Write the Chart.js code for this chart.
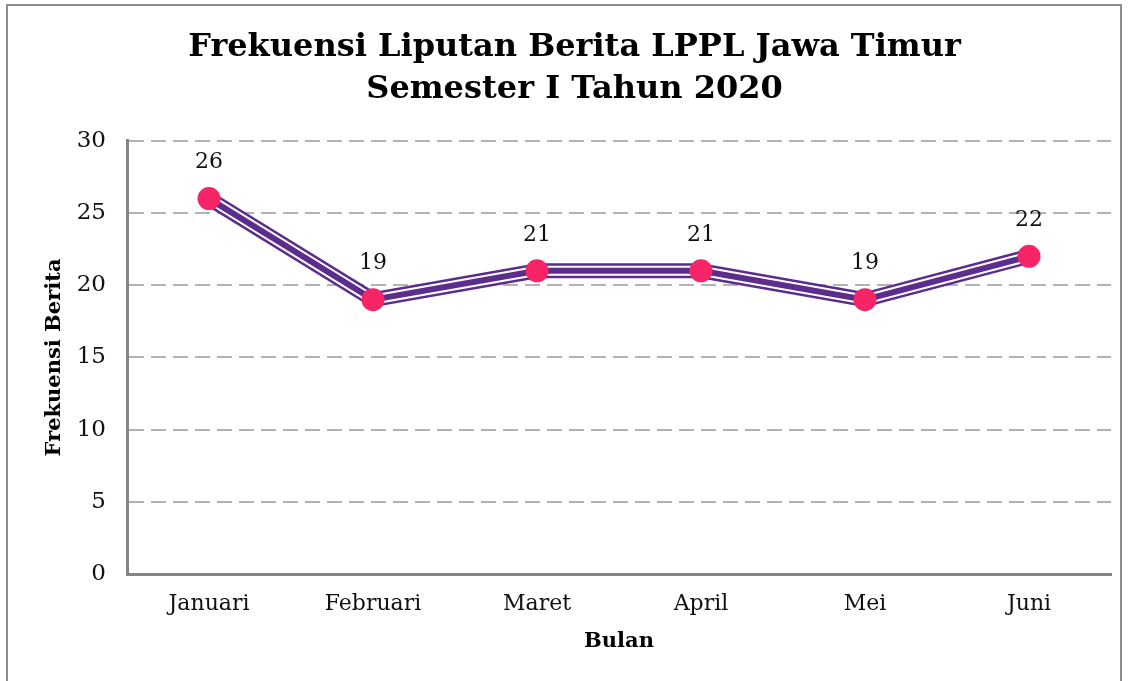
<!DOCTYPE html>
<html>
<head>
<meta charset="utf-8">
<script src="https://cdn.jsdelivr.net/npm/chart.js@4.4.0/dist/chart.umd.min.js"></script>
<style>
  html, body { margin: 0; padding: 0; background: #fff; overflow: hidden; }
  #wrap { position: relative; width: 1132px; height: 681px; }
  #frame { position: absolute; left: 6px; top: 4px; width: 1116px; height: 700px; border: 2px solid #8c8c8c; box-sizing: border-box; pointer-events: none; }
  canvas { position: absolute; left: 0; top: 0; }
</style>
</head>
<body>
<div id="wrap">
  <div id="frame"></div>
  <canvas id="c" width="1132" height="681"></canvas>
</div>
<script>
const titleLines = ["Frekuensi Liputan Berita LPPL Jawa Timur", "Semester I Tahun 2020"];
const categories = ["Januari", "Februari", "Maret", "April", "Mei", "Juni"];
const frekuensi = [26, 19, 21, 21, 19, 22];
const yTicks = [0, 5, 10, 15, 20, 25, 30];
const xAxisTitle = "Bulan";
const yAxisTitle = "Frekuensi Berita";

const SERIF = "'DejaVu Serif', serif";
const PURPLE = "#5c2d8c";
const PINK = "#f72468";

const labelPlugin = {
  id: 'valueLabels',
  afterDatasetsDraw(chart) {
    const meta = chart.getDatasetMeta(0);
    const ctx = chart.ctx;
    ctx.save();
    ctx.font = "22px " + SERIF;
    ctx.fillStyle = "#111";
    ctx.textAlign = "center";
    ctx.textBaseline = "middle";
    meta.data.forEach((pt, i) => {
      ctx.fillText(String(frekuensi[i]), pt.x, pt.y - 36);
    });
    ctx.restore();
  }
};

new Chart(document.getElementById('c'), {
  type: 'line',
  data: {
    labels: categories,
    datasets: [
      { data: frekuensi, borderColor: PURPLE, borderWidth: 6, pointRadius: 11.5, pointHoverRadius: 11.5,
        pointBackgroundColor: PINK, pointBorderColor: PINK, pointBorderWidth: 0, tension: 0, borderJoinStyle: 'miter' },
      { data: frekuensi, borderColor: "#ffffff", borderWidth: 10, pointRadius: 0, tension: 0, borderJoinStyle: 'miter' },
      { data: frekuensi, borderColor: PURPLE, borderWidth: 15, pointRadius: 0, tension: 0, borderJoinStyle: 'miter' }
    ]
  },
  options: {
    responsive: false,
    animation: false,
    events: [],
    layout: { padding: { top: 0, left: 38, right: 21, bottom: 0 } },
    plugins: {
      legend: { display: false },
      tooltip: { enabled: false },
      title: {
        display: true,
        text: titleLines,
        color: "#000",
        font: { family: SERIF, size: 32, weight: 'bold', lineHeight: 1.31 },
        padding: { top: 27, bottom: 30 }
      }
    },
    scales: {
      x: {
        offset: true,
        grid: { display: false, drawTicks: false },
        border: { display: true, color: "#868686", width: 3 },
        ticks: { color: "#111", font: { family: SERIF, size: 22 }, padding: 17 },
        title: { display: true, text: xAxisTitle, color: "#000", font: { family: SERIF, size: 21, weight: 'bold' }, padding: { top: 6, bottom: 27 } },
        afterFit(scale) { scale.height = 107; }
      },
      y: {
        min: 0, max: 30,
        afterBuildTicks(scale) { scale.ticks = yTicks.map(v => ({ value: v })); },
        grid: { color: "#b3b3b3", lineWidth: 2, drawTicks: false },
        border: { display: true, color: "#868686", width: 3, dash: [15, 7] },
        ticks: { color: "#111", font: { family: SERIF, size: 23 }, padding: 21 },
        title: { display: true, text: yAxisTitle, color: "#000", font: { family: SERIF, size: 21, weight: 'bold' }, padding: { top: 4, bottom: 0 } },
        afterFit(scale) { scale.width = 89; }
      }
    }
  },
  plugins: [labelPlugin]
});
</script>
</body>
</html>
